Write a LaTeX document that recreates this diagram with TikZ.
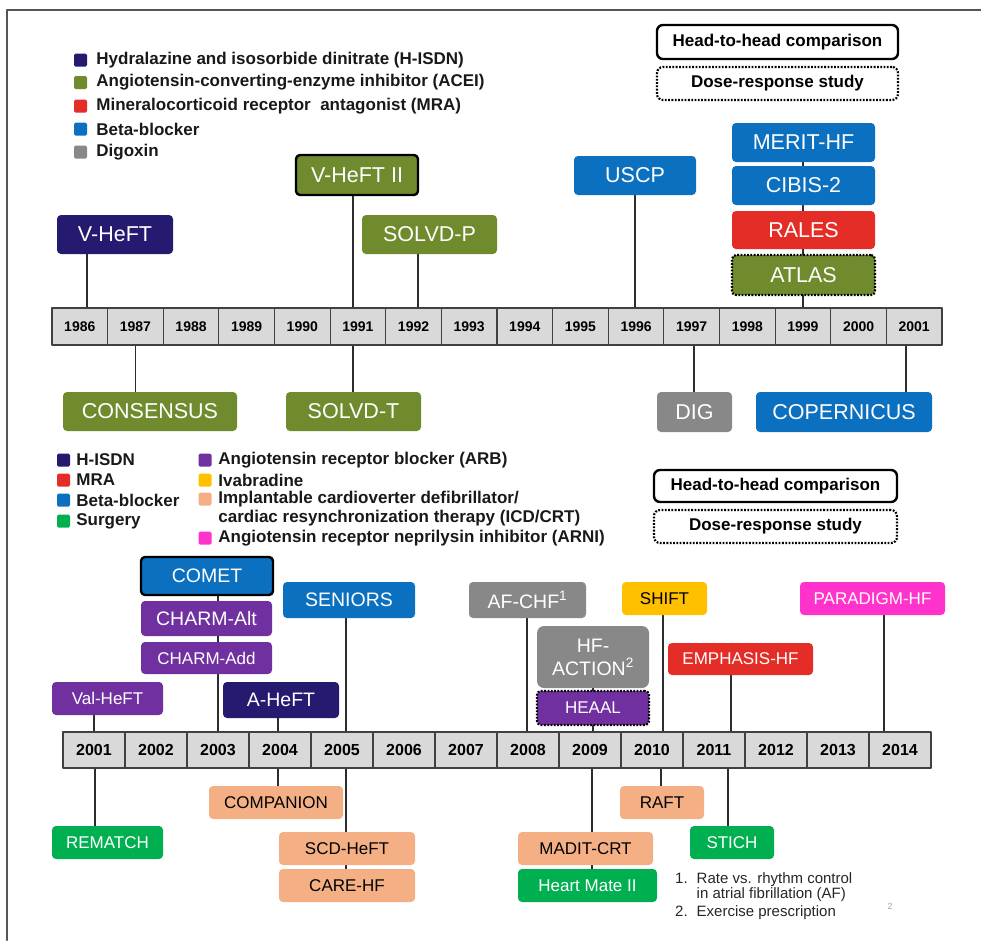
\documentclass[tikz,border=0pt]{standalone}
\usepackage{fontspec}
\setmainfont{Liberation Sans}
\usetikzlibrary{positioning}
\pgfdeclarelayer{background}
\pgfsetlayers{background,main}

% drug classes
\definecolor{hisdn}{RGB}{36,26,112}
\definecolor{acei}{RGB}{111,139,46}
\definecolor{mra}{RGB}{227,45,38}
\definecolor{beta}{RGB}{11,112,192}
\definecolor{digoxin}{RGB}{136,136,136}
\definecolor{arb}{RGB}{112,48,160}
\definecolor{ivab}{RGB}{255,192,0}
\definecolor{icd}{RGB}{244,176,132}
\definecolor{arni}{RGB}{255,51,204}
\definecolor{surgery}{RGB}{0,176,80}
\definecolor{cellfill}{RGB}{217,217,217}
\definecolor{cellline}{RGB}{64,64,64}
\definecolor{linkgray}{RGB}{45,45,45}
\definecolor{framegray}{RGB}{85,85,85}

\tikzset{
  trial/.style={rectangle, rounded corners=4pt, inner sep=0pt, outer sep=0pt,
    text=white, align=center},
  early/.style={trial, minimum height=39pt, font=\fontsize{21.5}{23}\selectfont},
  late/.style={trial, minimum height=33pt, font=\fontsize{17}{19}\selectfont},
  big/.style={font=\fontsize{19.5}{23}\selectfont},
  headtohead/.style={draw=black, line width=2.4pt},
  doseresp/.style={draw=black, line width=2.2pt, line cap=butt, dash pattern=on 1.8pt off 1.5pt},
  legendbox/.style={rectangle, rounded corners=6pt, fill=white, inner sep=0pt,
    font=\bfseries\fontsize{17}{19}\selectfont},
  yearcell/.style={rectangle, draw=cellline, fill=cellfill, line width=1.2pt,
    inner sep=0pt, outer sep=0pt},
  key/.style={rectangle, rounded corners=1.5pt, minimum size=13pt, inner sep=0pt},
  keytext/.style={inner sep=0pt, text=black!90, font=\bfseries\fontsize{17}{19}\selectfont},
  link/.style={draw=linkgray, line width=1.6pt},
  note/.style={inner sep=0pt, text=black!85, font=\fontsize{15}{15.5}\selectfont}
}

\begin{document}
\begin{tikzpicture}[x=1pt, y=-1pt, line cap=round, line join=round]
  \useasboundingbox (0,0) rectangle (981,940);
  % slide frame
  \draw[framegray, line width=2pt] (7,940) -- (7,10) -- (981,10);

  % ---- 1986-2001 ----
  \node[key, fill=hisdn] (khisdn) at (80.5,60) {};
  \node[keytext, right=9pt of khisdn] (lhisdn) {Hydralazine and isosorbide dinitrate (H-ISDN)};
  \node[key, fill=acei] (kacei) at (80.5,82.5) {};
  \node[keytext, right=9pt of kacei] (lacei) {Angiotensin-converting-enzyme inhibitor (ACEI)};
  \node[key, fill=mra] (kmra) at (80.5,106) {};
  \node[keytext, right=9pt of kmra] (lmra) {Mineralocorticoid receptor~ antagonist (MRA)};
  \node[key, fill=beta] (kbeta) at (80.5,129) {};
  \node[keytext, right=9pt of kbeta] (lbeta) {Beta-blocker};
  \node[key, fill=digoxin] (kdig) at (80.5,152) {};
  \node[keytext, right=9pt of kdig] (ldig) {Digoxin};

  \node[legendbox, headtohead, minimum width=241pt, minimum height=34pt] (hthtop) at (777.5,42) {Head-to-head comparison};
  \node[legendbox, doseresp, minimum width=241pt, minimum height=33pt] (drtop) at (777.5,83.5) {Dose-response study};

  \foreach \yr [count=\i from 0] in {1986,...,2001}
    \node[yearcell, minimum width=55.6pt, minimum height=37pt,
      font=\bfseries\fontsize{14}{16}\selectfont] (t\yr) at ({52+55.625*(\i+0.5)},326.5) {\yr};

  \node[early, fill=hisdn, minimum width=116pt] (vheft) at (115,234.5) {V-HeFT};
  \node[early, fill=acei, headtohead, minimum width=122pt, minimum height=40pt] (vhefttwo) at (357,175) {V-HeFT II};
  \node[early, fill=acei, minimum width=135pt] (solvdp) at (429.5,234.5) {SOLVD-P};
  \node[early, fill=beta, minimum width=122pt] (uscp) at (635,175.5) {USCP};
  \node[early, fill=beta, minimum width=143pt] (merit) at (803.5,142.5) {MERIT-HF};
  \node[early, fill=beta, minimum width=143pt] (cibis) at (803.5,185.5) {CIBIS-2};
  \node[early, fill=mra, minimum width=143pt, minimum height=38pt] (rales) at (803.5,230) {RALES};
  \node[early, fill=acei, doseresp, minimum width=143pt, minimum height=40pt] (atlas) at (803.5,275) {ATLAS};
  \node[early, fill=acei, minimum width=174pt] (consensus) at (150,411.5) {CONSENSUS};
  \node[early, fill=acei, minimum width=135pt] (solvdt) at (353.5,411.5) {SOLVD-T};
  \node[early, fill=digoxin, minimum width=75pt, minimum height=40pt] (dig) at (694.5,412) {DIG};
  \node[early, fill=beta, minimum width=176pt, minimum height=40pt] (copernicus) at (844,412) {COPERNICUS};

  % ---- 2001-2014 ----
  \node[key, fill=hisdn] (khisdnb) at (63.5,460) {};
  \node[keytext, right=6pt of khisdnb] (lhisdnb) {H-ISDN};
  \node[key, fill=mra] (kmrab) at (63.5,480) {};
  \node[keytext, right=6pt of kmrab] (lmrab) {MRA};
  \node[key, fill=beta] (kbetab) at (63.5,500) {};
  \node[keytext, right=6pt of kbetab] (lbetab) {Beta-blocker};
  \node[key, fill=surgery] (ksurg) at (63.5,521) {};
  \node[keytext, right=6pt of ksurg] (lsurg) {Surgery};
  \node[key, fill=arb] (karb) at (205,460) {};
  \node[keytext, right=6.5pt of karb] (larb) {Angiotensin receptor blocker (ARB)};
  \node[key, fill=ivab] (kivab) at (205,480) {};
  \node[keytext, right=6.5pt of kivab] (livab) {Ivabradine};
  \node[key, fill=icd] (kicd) at (205,499) {};
  \node[keytext, right=6.5pt of kicd] (licd) {Implantable cardioverter defibrillator/};
  \node[keytext, anchor=west] (licdtwo) at ([yshift=-19pt]licd.west) {cardiac resynchronization therapy (ICD/CRT)};
  \node[key, fill=arni] (karni) at (205,538) {};
  \node[keytext, right=6.5pt of karni] (larni) {Angiotensin receptor neprilysin inhibitor (ARNI)};

  \node[legendbox, headtohead, minimum width=243pt, minimum height=32pt] (hthbot) at (775.5,486) {Head-to-head comparison};
  \node[legendbox, doseresp, minimum width=243pt, minimum height=33pt] (drbot) at (775.5,526.5) {Dose-response study};

  \foreach \yr [count=\i from 0] in {2001,...,2014}
    \node[yearcell, minimum width=62pt, minimum height=36pt,
      font=\bfseries\fontsize{16}{18}\selectfont] (b\yr) at ({63+62*(\i+0.5)},750) {\yr};

  \node[late, big, fill=beta, headtohead, minimum width=132pt, minimum height=38pt] (comet) at (207,576) {COMET};
  \node[late, big, fill=arb, minimum width=131pt, minimum height=35pt] (charmalt) at (206.5,618.5) {CHARM-Alt};
  \node[late, fill=arb, minimum width=131pt, minimum height=32pt] (charmadd) at (206.5,658) {CHARM-Add};
  \node[late, fill=arb, minimum width=111pt] (valheft) at (107.5,698.5) {Val-HeFT};
  \node[late, big, fill=hisdn, minimum width=116pt, minimum height=36pt] (aheft) at (281,700) {A-HeFT};
  \node[late, big, fill=beta, minimum width=132pt, minimum height=36pt] (seniors) at (349,600) {SENIORS};
  \node[late, big, fill=digoxin, minimum width=117pt, minimum height=36pt] (afchf) at (527.5,600) {AF-CHF\textsuperscript{1}};
  \node[late, big, fill=digoxin, minimum width=112pt, minimum height=62pt, rounded corners=7pt] (hfaction) at (593,657) {HF-\\ACTION\textsuperscript{2}};
  \node[late, fill=arb, doseresp, minimum width=112pt, minimum height=34pt] (heaal) at (593,708) {HEAAL};
  \node[late, fill=ivab, text=black, minimum width=85pt] (shift) at (664.5,598.5) {SHIFT};
  \node[late, fill=mra, minimum width=145pt, minimum height=32pt] (emphasis) at (740.5,659) {EMPHASIS-HF};
  \node[late, fill=arni, minimum width=145pt] (paradigm) at (872.5,598.5) {PARADIGM-HF};
  \node[late, fill=surgery, minimum width=111pt] (rematch) at (107.5,842.5) {REMATCH};
  \node[late, fill=icd, text=black, minimum width=134pt] (companion) at (276,802.5) {COMPANION};
  \node[late, fill=icd, text=black, minimum width=136pt] (scdheft) at (347,848.5) {SCD-HeFT};
  \node[late, fill=icd, text=black, minimum width=136pt] (careheft) at (347,885.5) {CARE-HF};
  \node[late, fill=icd, text=black, minimum width=135pt] (maditcrt) at (585.5,848.5) {MADIT-CRT};
  \node[late, fill=surgery, minimum width=139pt] (heartmate) at (587.5,885.5) {Heart Mate II};
  \node[late, fill=icd, text=black, minimum width=84pt] (raft) at (662,802.5) {RAFT};
  \node[late, fill=surgery, minimum width=84pt] (stich) at (732,842.5) {STICH};

  \node[note, anchor=north west] (notes) at (675,872) {\begin{tabular}{@{}l@{\hspace{9pt}}l@{}}
    1. & Rate vs. rhythm control\\
       & in atrial fibrillation (AF)\\[2pt]
    2. & Exercise prescription
  \end{tabular}};
  \node[text=black!35, inner sep=0pt, font=\fontsize{9}{9}\selectfont] (pagenum) at (890,906) {2};

  % stems from the year cells, behind the boxes
  \begin{pgfonlayer}{background}
    \draw[link] ([xshift=7pt]t1986.north) -- ([xshift=7pt]t1986.north |- vheft.center);
    \draw[link] ([xshift=-5pt]t1991.north) -- ([xshift=-5pt]t1991.north |- vhefttwo.center);
    \draw[link] ([xshift=4.5pt]t1992.north) -- ([xshift=4.5pt]t1992.north |- solvdp.center);
    \draw[link] ([xshift=-1pt]t1996.north) -- ([xshift=-1pt]t1996.north |- uscp.center);
    \draw[link] (t1999.north) -- (t1999.north |- merit.center);
    \draw[link] (t1987.south) -- (t1987.south |- consensus.center);
    \draw[link] ([xshift=-5pt]t1991.south) -- ([xshift=-5pt]t1991.south |- solvdt.center);
    \draw[link] ([xshift=2pt]t1997.south) -- ([xshift=2pt]t1997.south |- dig.center);
    \draw[link] ([xshift=-8pt]t2001.south) -- ([xshift=-8pt]t2001.south |- copernicus.center);

    \draw[link] (b2001.north) -- (b2001.north |- valheft.center);
    \draw[link] (b2003.north) -- (b2003.north |- comet.center);
    \draw[link] ([xshift=-2pt]b2004.north) -- ([xshift=-2pt]b2004.north |- aheft.center);
    \draw[link] ([xshift=4pt]b2005.north) -- ([xshift=4pt]b2005.north |- seniors.center);
    \draw[link] ([xshift=-1pt]b2008.north) -- ([xshift=-1pt]b2008.north |- afchf.center);
    \draw[link] ([xshift=3pt]b2009.north) -- ([xshift=3pt]b2009.north |- hfaction.center);
    \draw[link] ([xshift=11pt]b2010.north) -- ([xshift=11pt]b2010.north |- shift.center);
    \draw[link] ([xshift=17pt]b2011.north) -- ([xshift=17pt]b2011.north |- emphasis.center);
    \draw[link] ([xshift=-16pt]b2014.north) -- ([xshift=-16pt]b2014.north |- paradigm.center);
    \draw[link] ([xshift=1pt]b2001.south) -- ([xshift=1pt]b2001.south |- rematch.center);
    \draw[link] ([xshift=-2pt]b2004.south) -- ([xshift=-2pt]b2004.south |- companion.center);
    \draw[link] ([xshift=4pt]b2005.south) -- ([xshift=4pt]b2005.south |- careheft.center);
    \draw[link] ([xshift=2pt]b2009.south) -- ([xshift=2pt]b2009.south |- heartmate.center);
    \draw[link] ([xshift=9pt]b2010.south) -- ([xshift=9pt]b2010.south |- raft.center);
    \draw[link] ([xshift=14pt]b2011.south) -- ([xshift=14pt]b2011.south |- stich.center);
  \end{pgfonlayer}
\end{tikzpicture}
\end{document}
